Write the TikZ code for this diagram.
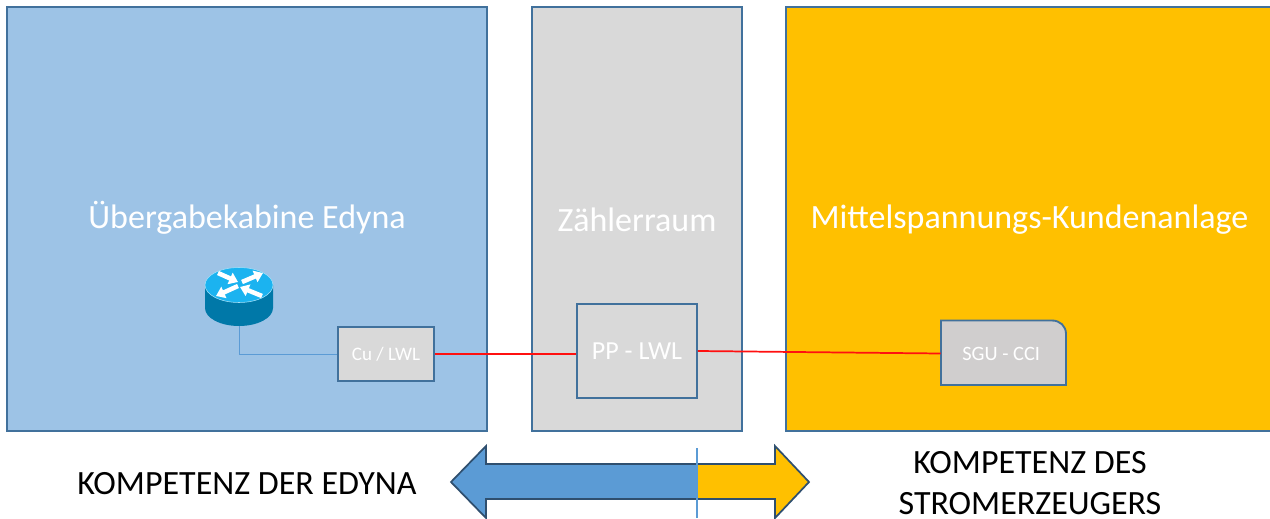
\documentclass[tikz,border=0pt]{standalone}
\usepackage{fontspec}
\setmainfont{Carlito}
\usetikzlibrary{arrows.meta}
\definecolor{edge}{HTML}{41719C}
\definecolor{panelblue}{HTML}{9DC3E6}
\definecolor{panelgrey}{HTML}{D9D9D9}
\definecolor{panelyellow}{HTML}{FFC000}
\definecolor{devgrey}{HTML}{D0CECE}
\definecolor{arrowblue}{HTML}{5B9BD5}
\definecolor{arrowedge}{HTML}{2F4F6F}
\definecolor{routerTop}{HTML}{1BB3F0}
\definecolor{routerSide}{HTML}{0078A8}
\definecolor{wire}{HTML}{FF1010}
\tikzset{
  x=0.75pt,y=-0.75pt,
  device/.style={draw=edge,line width=1.4pt,fill=panelgrey,inner sep=0pt,text=white},
  title/.style={text=white,font=\fontsize{25.5}{30}\selectfont,inner sep=0pt},
  bottomlabel/.style={text=black,font=\fontsize{25.5}{30.75}\selectfont,inner sep=0pt,align=center},
  redwire/.style={draw=wire,line width=1.3pt},
  bluewire/.style={draw=arrowblue,line width=0.75pt},
  bigarrow/.style={draw=arrowedge,line width=1.3pt,line join=miter},
  panelline/.style={draw=edge,line width=1.2pt},
}
\begin{document}
\begin{tikzpicture}
\useasboundingbox (0,0) rectangle (1270,518);
% panels
\fill[panelblue] (7,7) rectangle (487,431);
\draw[panelline] (7,7) rectangle (487,431);
\fill[panelgrey] (532,7) rectangle (742,431);
\draw[panelline] (532,7) rectangle (742,431);
\fill[panelyellow] (786,7) rectangle (1271,431);
\draw[panelline] (1272,7) -- (786,7) -- (786,431) -- (1272,431);
% titles
\node[title] (t1) at (247,218) {Übergabekabine Edyna};
\node[title] (t2) at (637,220) {Zählerraum};
\node[title] (t3) at (1029.5,220) {Mittelspannungs-Kundenanlage};
% devices
\node[device,minimum width=72pt,minimum height=40.5pt,font=\fontsize{14.3}{17}\selectfont] (cu) at (386,354) {Cu / LWL};
\node[device,minimum width=90pt,minimum height=70.5pt,font=\fontsize{19.5}{23}\selectfont] (pp) at (637,351) {PP - LWL};
\draw[edge,line width=1.4pt,fill=devgrey] (941,320.5) -- (1052,320.5) .. controls (1060,320.5) and (1066,326) .. (1066,334) -- (1066,385) -- (941,385) -- cycle;
\node[minimum width=93.75pt,minimum height=48.4pt,inner sep=0pt,text=white,font=\fontsize{15.3}{18}\selectfont] (sgu) at (1003.5,353.5) {\hspace{-3.5pt}SGU - CCI};
% router
\fill[routerSide] (205,285) -- (205,308) arc[start angle=180,end angle=0,x radius=34,y radius=18] -- (273,285) -- cycle;
\fill[routerTop,draw=white!60!routerTop,line width=0.4pt] (239,285) ellipse[x radius=34,y radius=17.5];
\foreach \rx/\ry/\tx/\ty in {218/273/238/282, 242/282/263/273, 238/286/216/296, 262/296/240/287}{
  \draw[white,line width=3.4pt,-{Triangle[length=6.5pt,width=9pt]}] (\rx,\ry) -- (\tx,\ty);
}
\coordinate (router) at (239,326);
% connectors
\draw[bluewire] (router) |- (cu.west);
\draw[redwire] (cu.east) -- (cu.east -| pp.west);
\draw[redwire] (pp.east) -- (sgu.west);
% bottom arrow
\fill[arrowblue] (451,482) -- (486,446) -- (486,464) -- (697,464) -- (697,499) -- (486,499) -- (486,518) -- cycle;
\fill[panelyellow] (697,464) -- (775,464) -- (775,446) -- (809,482) -- (775,518) -- (775,499) -- (697,499) -- cycle;
\draw[bigarrow] (486,464) -- (486,446) -- (451,482) -- (486,518) -- (486,499) -- (775,499) -- (775,518) -- (809,482) -- (775,446) -- (775,464) -- cycle;
\coordinate (divTop) at (697,448);
\coordinate (divBot) at (697,518);
\draw[bluewire,line width=0.9pt] (divTop) -- (divBot);
% labels
\node[bottomlabel] (l1) at (247,484) {KOMPETENZ DER EDYNA};
\node[bottomlabel] (l2) at (1030,483.5) {KOMPETENZ DES\\STROMERZEUGERS};
\end{tikzpicture}
\end{document}
